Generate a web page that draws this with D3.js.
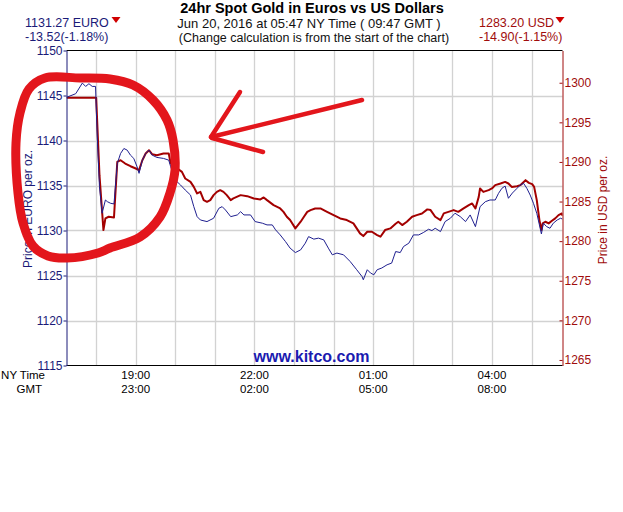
<!DOCTYPE html>
<html><head><meta charset="utf-8">
<script src="https://cdn.jsdelivr.net/npm/d3@7"></script>
<style>body{margin:0;background:#fff} svg{display:block} text{font-family:"Liberation Sans",Arial,sans-serif}</style>
</head><body><svg id="c" width="623" height="512"></svg>
<script>
// ---- data (NY time) ----
const eurTimes = ["17:15","17:29","17:39","17:44","17:49","17:54","17:59","18:02","18:05","18:09","18:14","18:17","18:22","18:27","18:32","18:37","18:42","18:47","18:52","18:57","19:02","19:05","19:10","19:15","19:20","19:25","19:32","19:42","19:50","19:53","20:00","20:08","20:15","20:23","20:28","20:33","20:38","20:48","20:58","21:06","21:11","21:16","21:24","21:34","21:39","21:44","21:54","22:01","22:12","22:19","22:27","22:32","22:39","22:47","22:54","23:02","23:10","23:17","23:22","23:30","23:37","23:45","23:52","23:58","00:05","00:15","00:25","00:35","00:43","00:45","00:51","00:56","01:01","01:06","01:13","01:21","01:28","01:34","01:41","01:46","01:54","02:01","02:09","02:16","02:24","02:29","02:34","02:42","02:49","02:57","03:04","03:12","03:20","03:27","03:35","03:42","03:50","03:57","04:05","04:10","04:15","04:20","04:25","04:31","04:38","04:43","04:48","04:53","04:58","05:03","05:08","05:12","05:15","05:18","05:23","05:28","05:33","05:39","05:44","05:47"];
const eurValues = [1144.79,1145.20,1146.38,1146.01,1146.31,1146.01,1146.01,1139.70,1134.86,1131.92,1133.39,1133.20,1133.02,1132.95,1137.45,1138.56,1139.11,1138.93,1138.37,1138.01,1137.08,1136.35,1137.82,1138.56,1138.93,1138.37,1138.12,1138.01,1137.82,1137.08,1135.60,1135.05,1134.50,1133.94,1132.65,1131.54,1131.17,1130.99,1131.36,1132.47,1132.65,1132.28,1131.54,1131.73,1132.09,1131.73,1131.73,1130.99,1130.81,1130.62,1130.62,1130.07,1129.51,1128.77,1128.04,1127.55,1127.85,1128.59,1129.32,1129.04,1129.15,1128.96,1128.04,1127.30,1127.49,1127.30,1126.56,1125.64,1124.89,1124.53,1125.64,1125.27,1125.08,1125.64,1125.83,1126.19,1126.38,1127.66,1127.55,1128.22,1128.59,1129.51,1129.51,1129.77,1130.14,1129.99,1130.25,1129.88,1130.99,1131.36,1131.92,1131.54,1130.99,1131.73,1130.43,1132.65,1133.20,1133.39,1133.39,1134.13,1134.68,1134.94,1133.58,1134.16,1134.68,1135.05,1135.24,1134.68,1133.94,1133.02,1131.92,1130.62,1129.62,1130.81,1130.43,1130.25,1130.81,1131.17,1131.36,1131.27];
const usdTimes = ["17:15","18:00","18:05","18:11","18:14","18:19","18:27","18:32","18:37","18:44","18:52","19:00","19:05","19:10","19:15","19:20","19:25","19:32","19:42","19:50","19:53","20:00","20:10","20:15","20:23","20:28","20:33","20:38","20:43","20:48","20:53","20:58","21:03","21:08","21:13","21:18","21:24","21:28","21:39","21:49","21:59","22:09","22:14","22:19","22:29","22:39","22:44","22:49","22:54","23:02","23:10","23:15","23:20","23:25","23:32","23:40","23:50","00:00","00:10","00:20","00:30","00:40","00:45","00:51","00:58","01:06","01:11","01:18","01:26","01:34","01:38","01:44","01:51","01:59","02:06","02:14","02:22","02:27","02:34","02:42","02:47","02:54","03:02","03:09","03:17","03:25","03:30","03:35","03:40","03:42","03:47","03:55","04:00","04:05","04:13","04:20","04:25","04:30","04:38","04:43","04:51","04:56","05:01","05:04","05:08","05:12","05:15","05:17","05:21","05:26","05:31","05:36","05:41","05:46","05:47"];
const usdValues = [1298.10,1298.10,1288.33,1281.40,1282.87,1283.08,1283.00,1290.00,1290.22,1289.80,1289.46,1289.17,1288.96,1290.22,1291.06,1291.48,1290.97,1290.85,1291.06,1291.06,1289.80,1289.37,1288.74,1287.91,1287.48,1286.85,1286.02,1286.22,1285.18,1284.96,1285.18,1285.81,1286.22,1286.44,1286.22,1285.81,1285.18,1285.39,1285.81,1285.68,1285.39,1285.27,1285.52,1285.18,1284.55,1284.13,1283.70,1283.08,1282.66,1281.61,1282.45,1283.08,1283.70,1283.92,1284.13,1284.13,1283.70,1283.29,1282.87,1282.66,1282.24,1280.98,1280.64,1281.19,1281.19,1280.77,1280.56,1281.40,1281.61,1282.20,1282.45,1282.03,1282.45,1283.08,1283.29,1283.50,1284.01,1283.92,1283.08,1282.66,1283.50,1283.70,1283.92,1283.70,1284.13,1284.55,1284.76,1284.13,1285.59,1286.65,1286.22,1286.44,1286.65,1287.07,1287.28,1287.48,1287.28,1286.85,1286.94,1287.07,1287.70,1287.36,1287.19,1286.85,1285.18,1282.66,1281.40,1282.24,1282.45,1282.24,1282.57,1282.87,1283.29,1283.50,1283.20];
const eurTicks = [1115,1120,1125,1130,1135,1140,1145,1150];
const usdTicks = [1265,1270,1275,1280,1285,1290,1295,1300];
const gridHours = ["18:00","19:00","20:00","21:00","22:00","23:00","00:00","01:00","02:00","03:00","04:00","05:00"];
const nyLabels = ["19:00","22:00","01:00","04:00"];
const gmtLabels = ["23:00","02:00","05:00","08:00"];
const header = {
  title: "24hr Spot Gold in Euros vs US Dollars",
  date: "Jun 20, 2016 at 05:47 NY Time ( 09:47 GMT )",
  note: "(Change calculation is from the start of the chart)",
  eurPrice: "1131.27 EURO", eurChange: "-13.52(-1.18%)",
  usdPrice: "1283.20 USD", usdChange: "-14.90(-1.15%)"
};

// ---- drawing ----
const NAVY = "#1a1a78", RED = "#a00c0c", LINE_B = "#1f1f8f", LINE_R = "#a30000";
const svg = d3.select("#c");
svg.append("rect").attr("width",623).attr("height",512).attr("fill","#fff");
const parseT = s => { const [h,m] = s.split(":").map(Number); return new Date(2016,5,h>=12?19:20,h,m); };
const L = 66.5, R = 562.5, T = 50.5, B = 365.5;
const x = d3.scaleTime().domain([parseT("17:15"), parseT("05:47")]).range([L, R]);
const yE = d3.scaleLinear().domain([1115,1150]).range([B, T]);
const yU = d3.scaleLinear().domain([1264.3,1304.07]).range([B, T]);

// grid
const grid = svg.append("g").attr("stroke","#d2d2d2").attr("stroke-width",1.3);
grid.selectAll(".h").data(eurTicks.slice(1,-1)).join("line")
  .attr("x1",L).attr("x2",R).attr("y1",d=>Math.round(yE(d))+0.5).attr("y2",d=>Math.round(yE(d))+0.5);
grid.selectAll(".v").data(gridHours).join("line")
  .attr("x1",d=>Math.round(x(parseT(d)))+0.5).attr("x2",d=>Math.round(x(parseT(d)))+0.5).attr("y1",T).attr("y2",B);

// frame top/bottom
svg.append("line").attr("x1",L).attr("x2",R).attr("y1",T).attr("y2",T).attr("stroke","#000");
svg.append("line").attr("x1",L).attr("x2",R).attr("y1",B).attr("y2",B).attr("stroke","#000");

// lines
svg.append("clipPath").attr("id","clip").append("rect").attr("x",L).attr("y",T).attr("width",R-L).attr("height",B-T);
const usd = usdTimes.map((t,i)=>({t:parseT(t), v:usdValues[i]}));
const eur = eurTimes.map((t,i)=>({t:parseT(t), v:eurValues[i]}));
svg.append("path").datum(usd).attr("clip-path","url(#clip)").attr("fill","none").attr("stroke",LINE_R).attr("stroke-width",2).attr("stroke-linejoin","round")
  .attr("d", d3.line().x(d=>x(d.t)).y(d=>yU(d.v)));
svg.append("path").datum(eur).attr("clip-path","url(#clip)").attr("fill","none").attr("stroke",LINE_B).attr("stroke-width",1).attr("stroke-linejoin","round")
  .attr("d", d3.line().x(d=>x(d.t)).y(d=>yE(d.v)));

// axes
const ax = svg.append("g").attr("transform",`translate(${L},0)`)
  .call(d3.axisLeft(yE).tickValues(eurTicks).tickSize(3).tickSizeOuter(0).tickPadding(1).tickFormat(d3.format("d")));
ax.selectAll("path,line").attr("stroke",NAVY);
ax.selectAll("text").attr("fill",NAVY).attr("font-size",12).attr("font-family","Liberation Sans, Arial");
const ar = svg.append("g").attr("transform",`translate(${R},0)`)
  .call(d3.axisRight(yU).tickValues(usdTicks).tickSize(-3).tickSizeOuter(0).tickPadding(2).tickFormat(d3.format("d")));
ar.selectAll("path,line").attr("stroke",RED);
ar.selectAll("text").attr("fill",RED).attr("font-size",12).attr("font-family","Liberation Sans, Arial");

// axis titles
svg.append("text").attr("transform","translate(32,209) rotate(-90)").attr("text-anchor","middle")
  .attr("font-size",12).attr("fill",NAVY).text("Price in EURO per oz.");
svg.append("text").attr("transform","translate(607,210) rotate(-90)").attr("text-anchor","middle")
  .attr("font-size",12).attr("fill",RED).text("Price in USD per oz.");

// time labels
svg.selectAll(".ny").data(nyLabels).join("text").attr("x",d=>x(parseT(d))).attr("y",379)
  .attr("text-anchor","middle").attr("font-size",11.5).attr("fill","#000").text(d=>d);
svg.selectAll(".gmt").data(gmtLabels).join("text").attr("x",(d,i)=>x(parseT(nyLabels[i]))).attr("y",393)
  .attr("text-anchor","middle").attr("font-size",11.5).attr("fill","#000").text(d=>d);
svg.append("text").attr("x",45).attr("y",379).attr("text-anchor","end").attr("font-size",11.5).text("NY Time");
svg.append("text").attr("x",42).attr("y",393).attr("text-anchor","end").attr("font-size",11.5).text("GMT");

// watermark
svg.append("text").attr("x",311.5).attr("y",362).attr("text-anchor","middle").attr("font-size",16).attr("font-weight","bold")
  .attr("fill","#1b1bb0").text("www.kitco.com");

// header
svg.append("text").attr("x",312).attr("y",12.5).attr("text-anchor","middle").attr("font-size",14.5).attr("font-weight","bold").text(header.title);
svg.append("text").attr("x",309).attr("y",28).attr("text-anchor","middle").attr("font-size",13).attr("fill","#111").text(header.date);
svg.append("text").attr("x",314).attr("y",41.5).attr("text-anchor","middle").attr("font-size",12.5).attr("fill","#111").text(header.note);
svg.append("text").attr("x",25).attr("y",27).attr("font-size",12.5).attr("fill",NAVY).text(header.eurPrice);
svg.append("text").attr("x",25).attr("y",41).attr("font-size",12.5).attr("fill",NAVY).text(header.eurChange);
svg.append("text").attr("x",479).attr("y",27).attr("font-size",12.5).attr("fill",RED).text(header.usdPrice);
svg.append("text").attr("x",479).attr("y",41).attr("font-size",12.5).attr("fill",RED).text(header.usdChange);
const tri = (cx,cy)=>`M${cx-4.5},${cy-3}L${cx+4.5},${cy-3}L${cx},${cy+3}Z`;
svg.append("path").attr("d",tri(116,20)).attr("fill","#d00000");
svg.append("path").attr("d",tri(560,20)).attr("fill","#d00000");

// hand-drawn annotation overlay (pixel space)
const scribble = [[110,79],[133,85],[153,100],[167,120],[173,140],[175,170],[170,193],[160,217],[140,237],[110,248],[98,253],[67,258],[48,256],[33,246],[23,223],[18,193],[16,143],[20,113],[29,89],[45,78],[80,78]];
svg.append("path").attr("d", d3.line().curve(d3.curveCatmullRomClosed)(scribble))
  .attr("fill","none").attr("stroke","#e3161c").attr("stroke-width",9).attr("stroke-linejoin","round");
const arrow = [[[362,100],[211,137]],[[211,137],[240,92]],[[212,138],[263,152]]];
svg.selectAll(".arr").data(arrow).join("path").attr("d",d=>d3.line()(d))
  .attr("fill","none").attr("stroke","#e3161c").attr("stroke-width",4.5).attr("stroke-linecap","round");
</script></body></html>
